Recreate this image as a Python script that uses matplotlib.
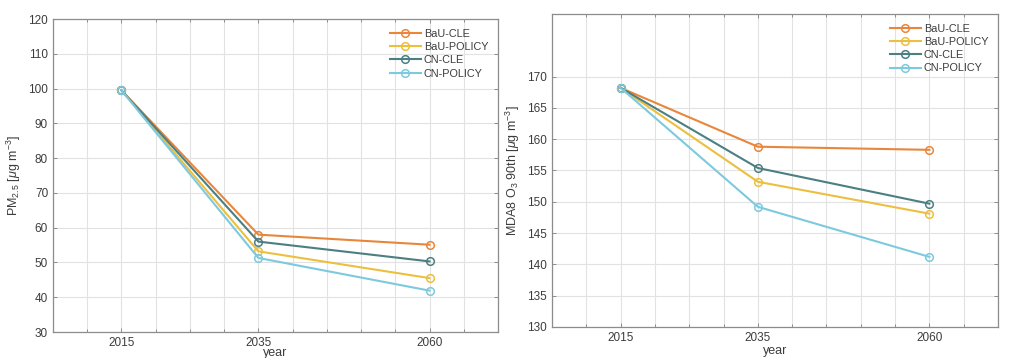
import matplotlib
matplotlib.use("Agg")
import matplotlib.pyplot as plt
from matplotlib.ticker import MultipleLocator

plt.rcParams['font.family'] = ['Liberation Sans', 'DejaVu Sans']
plt.rcParams['mathtext.fontset'] = 'custom'
plt.rcParams['mathtext.rm'] = 'Liberation Sans'
plt.rcParams['mathtext.it'] = 'Liberation Sans:italic'

years = [2015, 2035, 2060]
scenarios = ["BaU-CLE", "BaU-POLICY", "CN-CLE", "CN-POLICY"]
colors = ["#E8873C", "#EDBF3F", "#4B7F81", "#7DC9DD"]

pm25 = {
    "BaU-CLE":    [99.5, 58.0, 55.1],
    "BaU-POLICY": [99.5, 53.2, 45.5],
    "CN-CLE":     [99.5, 56.0, 50.3],
    "CN-POLICY":  [99.5, 51.3, 41.9],
}
o3 = {
    "BaU-CLE":    [168.2, 158.8, 158.3],
    "BaU-POLICY": [168.2, 153.2, 148.1],
    "CN-CLE":     [168.2, 155.4, 149.7],
    "CN-POLICY":  [168.2, 149.2, 141.2],
}

pm_yticks = list(range(30, 121, 10))
o3_yticks = list(range(130, 171, 5))

fig = plt.figure(figsize=(10.13, 3.58), dpi=100)
ax1 = fig.add_axes([0.0523, 0.0726, 0.4393, 0.8743])
ax2 = fig.add_axes([0.5449, 0.0866, 0.4403, 0.8743])

tick_color = "#3c3c3c"
spine_color = "#8c8c8c"


def style(ax, data, ylim, yticks, ylabel, xpad):
    for name, c in zip(scenarios, colors):
        ax.plot(years, data[name], color=c, lw=1.5, marker='o', ms=5.5,
                mfc='none', mew=1.1, label=name)
    ax.set_xlim(2005, 2070)
    ax.set_ylim(*ylim)
    ax.set_xticks(years)
    ax.set_yticks(yticks)
    ax.xaxis.set_minor_locator(MultipleLocator(5))
    ax.grid(True, which='both', axis='x', color='#e2e2e2', lw=0.8)
    ax.grid(True, which='major', axis='y', color='#e2e2e2', lw=0.8)
    ax.set_axisbelow(True)
    ax.tick_params(which='both', direction='in', top=True, right=True,
                   colors=spine_color, labelcolor=tick_color, labelsize=8.5,
                   length=3, width=0.7)
    ax.tick_params(which='minor', length=2)
    for s in ax.spines.values():
        s.set_color(spine_color)
        s.set_linewidth(0.9)
    ax.set_xlabel("year", fontsize=9, color=tick_color, labelpad=xpad)
    ax.set_ylabel(ylabel, fontsize=9, color=tick_color, labelpad=4)
    ax.legend(loc='upper right', frameon=False, fontsize=7.8,
              handlelength=2.9, handletextpad=0.25, labelspacing=0.3,
              borderaxespad=0.5, labelcolor=tick_color)


style(ax1, pm25, (30, 120), pm_yticks,
      r"PM$_{2.5}$ [$\mathit{\mu}$g m$^{-3}$]", -1.5)
style(ax2, o3, (130, 180), o3_yticks,
      r"MDA8 O$_3$ 90th [$\mathit{\mu}$g m$^{-3}$]", 1)

fig.savefig("out.png", dpi=100)
